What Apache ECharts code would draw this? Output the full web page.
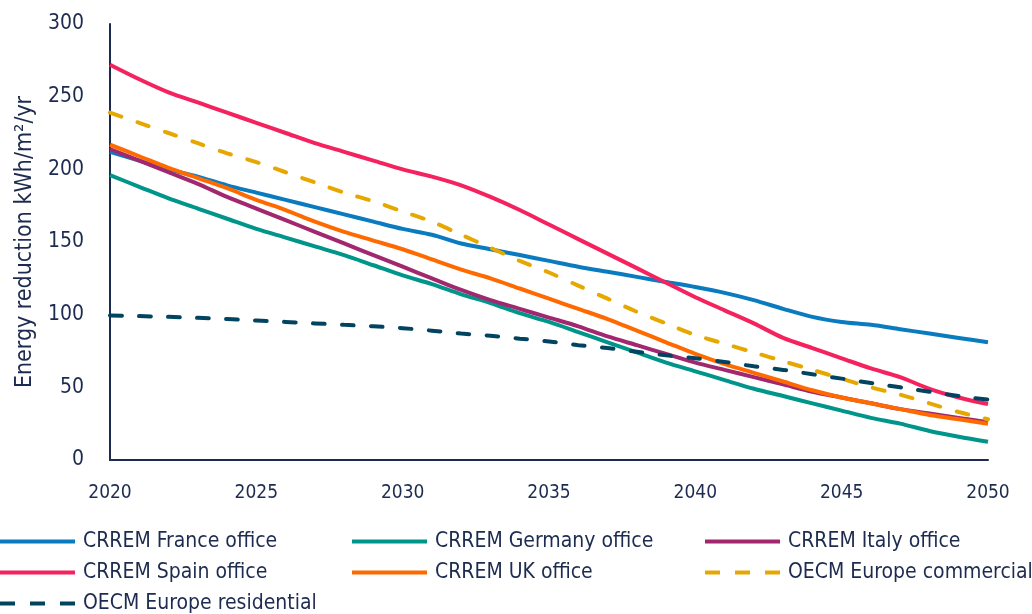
<!DOCTYPE html>
<html>
<head>
<meta charset="utf-8">
<script src="https://cdn.jsdelivr.net/npm/echarts@6/dist/echarts.min.js"></script>
<style>
  html, body { margin: 0; padding: 0; background: #fff; }
  #chart { width: 1032px; height: 614px; }
</style>
</head>
<body>
<div id="chart"></div>
<script>
// years on the x axis
const years = []
for (let y = 2020; y <= 2050; y++) years.push(String(y))

// values, kWh/m2/yr
const franceOffice = [212, 206, 200, 195, 189, 184, 179, 174, 169, 164, 159, 155, 149, 145, 141, 137, 133, 129.5, 126, 122.5, 119, 115, 110, 104, 98.5, 95, 93, 90, 87, 84, 81]
const germanyOffice = [196, 188, 180, 173, 166, 159, 153, 147, 141, 134, 127, 121, 114, 108, 101, 95, 88, 81, 74, 67, 61, 55, 49, 44, 39, 34, 29, 25, 20, 16, 12.5]
const italyOffice = [214, 206, 198, 190, 181, 173, 165, 157, 149, 141, 133, 125, 117, 110, 104, 98, 92, 85, 79, 73, 67, 62, 57, 52, 47, 43, 39, 35, 32, 29, 26]
const spainOffice = [272, 262, 253, 246, 239, 232, 225, 218, 212, 206, 200, 195, 189, 181, 172, 162, 152, 142, 132, 122, 112, 103, 94, 84, 77, 70, 63, 57, 49, 43, 38.5]
const ukOffice = [217, 209, 201, 194, 187, 179, 172, 164, 157, 151, 145, 138, 131, 125, 118, 111, 104, 97, 89, 81, 73, 66, 60, 54, 48, 43, 39, 35, 31, 28, 25]
const oecmCommercial = [239, 232, 225, 218, 211, 205, 198, 191, 184, 178, 171, 164, 155, 146, 137, 129, 120, 111, 102, 94, 86, 80, 74, 68, 62, 56, 50, 45, 39, 33, 28]
const oecmResidential = [99.5, 99, 98.5, 97.8, 97, 96, 95, 94, 93, 92, 90.7, 89, 87, 85.5, 83.5, 81.5, 79, 77, 74.5, 72, 70, 67.5, 64.5, 62, 59, 56, 53, 50, 47, 44, 41.5]

const yTicks = [0, 50, 100, 150, 200, 250, 300]

const textColor = '#1c2b4f'
const fontFam = '"Liberation Sans Narrow", "DejaVu Sans Condensed", "Noto Sans", sans-serif'

// legend icons: a solid bar, or three dashes
const solidIcon = 'rect'
const dashIcon = 'path://M0,0h15v4h-15z M30,0h15v4h-15z M60,0h15v4h-15z'

const seriesDefs = [
  { name: 'CRREM France office', data: franceOffice, color: '#0a7bbf', dashed: false, col: 0, row: 0 },
  { name: 'CRREM Germany office', data: germanyOffice, color: '#00958a', dashed: false, col: 1, row: 0 },
  { name: 'CRREM Italy office', data: italyOffice, color: '#a1286f', dashed: false, col: 2, row: 0 },
  { name: 'CRREM Spain office', data: spainOffice, color: '#f4225f', dashed: false, col: 0, row: 1 },
  { name: 'CRREM UK office', data: ukOffice, color: '#ff6a00', dashed: false, col: 1, row: 1 },
  { name: 'OECM Europe commercial', data: oecmCommercial, color: '#e6a800', dashed: true, col: 2, row: 1 },
  { name: 'OECM Europe residential', data: oecmResidential, color: '#00445f', dashed: true, col: 0, row: 2 }
]

const colLeft = [0, 352, 705]
const rowTop = [531, 562, 593]

const chart = echarts.init(document.getElementById('chart'))

const option = {
  animation: false,
  backgroundColor: '#fff',
  grid: { left: 110, right: 44, top: 24, bottom: 154, containLabel: false },
  legend: seriesDefs.map(s => ({
    left: colLeft[s.col],
    top: rowTop[s.row],
    padding: 0,
    itemWidth: 75,
    itemHeight: 4,
    textStyle: { color: textColor, fontSize: 21, fontFamily: fontFam, padding: [0, 0, 0, 3] },
    data: [{ name: s.name, icon: s.dashed ? dashIcon : solidIcon }]
  })),
  xAxis: {
    type: 'category',
    data: years,
    boundaryGap: false,
    axisLine: { lineStyle: { color: textColor, width: 2 } },
    axisTick: { show: false },
    axisLabel: {
      interval: 4,
      color: textColor,
      fontSize: 19,
      fontFamily: fontFam,
      margin: 24
    },
    splitLine: { show: false }
  },
  yAxis: {
    type: 'value',
    min: yTicks[0],
    max: yTicks[yTicks.length - 1],
    interval: 50,
    name: 'Energy reduction kWh/m\u00b2/yr',
    nameLocation: 'middle',
    nameGap: 73,
    nameTextStyle: { color: textColor, fontSize: 23, fontFamily: fontFam },
    axisLine: { show: true, lineStyle: { color: textColor, width: 2 } },
    axisTick: { show: false },
    axisLabel: { color: textColor, fontSize: 21, fontFamily: fontFam, margin: 26 },
    splitLine: { show: false }
  },
  series: seriesDefs.map(s => ({
    name: s.name,
    type: 'line',
    data: s.data,
    smooth: 0.3,
    showSymbol: false,
    symbol: 'none',
    color: s.color,
    lineStyle: {
      color: s.color,
      width: 4,
      type: s.dashed ? [12, 17] : 'solid',
      cap: s.dashed ? 'round' : 'butt'
    }
  }))
}

chart.setOption(option)
</script>
</body>
</html>
